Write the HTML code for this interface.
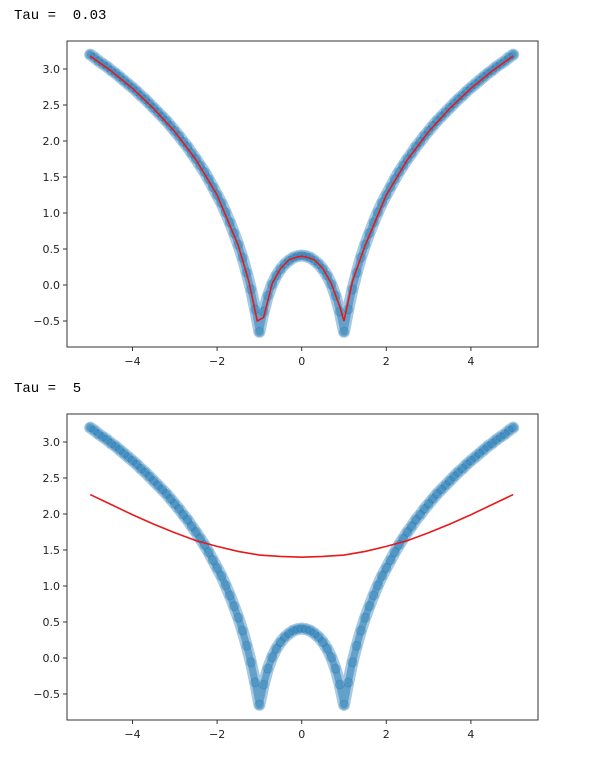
<!DOCTYPE html>
<html><head><meta charset="utf-8"><style>
body{margin:0;background:#fff;width:608px;height:761px;overflow:hidden}
.t{position:absolute;left:14px;font:14px "Liberation Mono",monospace;color:#000;white-space:pre}
</style></head><body>
<div class="t" style="top:8px">Tau =  0.03</div>
<div class="t" style="top:381px">Tau =  5</div>
<svg id="s" width="608" height="761" style="position:absolute;left:0;top:0"></svg>
<script>
const xs=[-5,-4.9,-4.8,-4.7,-4.6,-4.5,-4.4,-4.3,-4.2,-4.1,-4,-3.9,-3.8,-3.7,-3.6,-3.5,-3.4,-3.3,-3.2,-3.1,-3,-2.9,-2.8,-2.7,-2.6,-2.5,-2.4,-2.3,-2.2,-2.1,-2,-1.9,-1.8,-1.7,-1.6,-1.5,-1.4,-1.3,-1.2,-1.1,-1,-0.9,-0.8,-0.7,-0.6,-0.5,-0.4,-0.3,-0.2,-0.1,0,0.1,0.2,0.3,0.4,0.5,0.6,0.7,0.8,0.9,1,1.1,1.2,1.3,1.4,1.5,1.6,1.7,1.8,1.9,2,2.1,2.2,2.3,2.4,2.5,2.6,2.7,2.8,2.9,3,3.1,3.2,3.3,3.4,3.5,3.6,3.7,3.8,3.9,4,4.1,4.2,4.3,4.4,4.5,4.6,4.7,4.8,4.9,5];
const ys=[3.2,3.16,3.11,3.07,3.03,2.98,2.94,2.89,2.84,2.79,2.74,2.69,2.63,2.58,2.52,2.46,2.40,2.34,2.28,2.21,2.14,2.07,1.99,1.92,1.83,1.75,1.66,1.57,1.47,1.36,1.25,1.14,1.01,0.87,0.72,0.56,0.38,0.17,-0.06,-0.34,-0.65,-0.37,-0.15,0.01,0.13,0.22,0.29,0.34,0.38,0.40,0.41,0.40,0.38,0.34,0.29,0.22,0.13,0.01,-0.15,-0.37,-0.65,-0.34,-0.06,0.17,0.38,0.56,0.72,0.87,1.01,1.14,1.25,1.36,1.47,1.57,1.66,1.75,1.83,1.92,1.99,2.07,2.14,2.21,2.28,2.34,2.40,2.46,2.52,2.58,2.63,2.69,2.74,2.79,2.84,2.89,2.94,2.98,3.03,3.07,3.11,3.16,3.2];
const fitX1=[-5,-4.5,-4,-3.5,-3,-2.5,-2,-1.5,-1.25,-1.05,-0.9,-0.7,-0.5,-0.3,-0.1,0,0.1,0.3,0.5,0.7,0.9,1,1.2,1.5,2,2.5,3,3.5,4,4.5,5];
const fitY1=[3.18,2.97,2.73,2.45,2.13,1.74,1.25,0.55,0.05,-0.5,-0.45,0.02,0.23,0.35,0.39,0.4,0.39,0.35,0.23,0.02,-0.3,-0.5,0.05,0.55,1.25,1.74,2.13,2.45,2.73,2.97,3.18];
const fitX2=[-5,-4.5,-4,-3.5,-3,-2.5,-2,-1.5,-1,-0.5,0,0.5,1,1.5,2,2.5,3,3.5,4,4.5,5];
const fitY2=[2.27,2.13,1.99,1.86,1.74,1.63,1.55,1.48,1.43,1.41,1.40,1.41,1.43,1.48,1.55,1.63,1.74,1.86,1.99,2.13,2.27];
const xTicks=[-4,-2,0,2,4];
const yTicks=[-0.5,0,0.5,1,1.5,2,2.5,3];
const NS='http://www.w3.org/2000/svg',svg=document.getElementById('s');
function mk(t,a,p){const e=document.createElementNS(NS,t);for(const k in a)e.setAttribute(k,a[k]);(p||svg).appendChild(e);return e;}
function draw(top,fx,fy,idx){
 const L=67,R=538,T=top,B=top+306;
 const X=v=>301.7+v*42.3, Y=v=>top+244+(0-v)*72;
 const g=mk('g',{});
 
 
 mk('polyline',{points:xs.map((x,i)=>X(x)+','+Y(ys[i])).join(' '),fill:'none',stroke:'#3a86bd','stroke-opacity':0.45,'stroke-width':12,'stroke-linejoin':'round','stroke-linecap':'round'},g);
 mk('polyline',{points:xs.map((x,i)=>X(x)+','+Y(ys[i])).join(' '),fill:'none',stroke:'#1f77b4','stroke-opacity':0.5,'stroke-width':7,'stroke-linejoin':'round','stroke-linecap':'round'},g);
 xs.forEach((x,i)=>{const c=mk('circle',{cx:X(x),cy:Y(ys[i]),r:4.5,fill:'#1f77b4','fill-opacity':0.25,stroke:'#1f77b4','stroke-opacity':0.3},g);
  
  });
 const fl=mk('polyline',{points:fx.map((x,i)=>X(x)+','+Y(fy[i])).join(' '),fill:'none',stroke:'#e8191b','stroke-width':1.6},g);
 
 
 mk('rect',{x:L,y:T,width:R-L,height:B-T,fill:'none',stroke:'#333','stroke-width':1},g);
 xTicks.forEach(v=>{mk('line',{x1:X(v),x2:X(v),y1:B,y2:B+4,stroke:'#333'},g);
  const t=mk('text',{x:X(v),y:B+18,'text-anchor':'middle','font-size':11,'font-family':'DejaVu Sans,sans-serif',fill:'#222'},g);t.textContent=(v<0?'\u2212'+(-v):v);
  });
 yTicks.forEach(v=>{mk('line',{x1:L-4,x2:L,y1:Y(v),y2:Y(v),stroke:'#333'},g);
  const t=mk('text',{x:L-7,y:Y(v)+4,'text-anchor':'end','font-size':11,'font-family':'DejaVu Sans,sans-serif',fill:'#222'},g);t.textContent=(v<0?'\u2212'+(-v).toFixed(1):v.toFixed(1));
  });
}
draw(41,fitX1,fitY1,1);
draw(414,fitX2,fitY2,2);
</script>
</body></html>
